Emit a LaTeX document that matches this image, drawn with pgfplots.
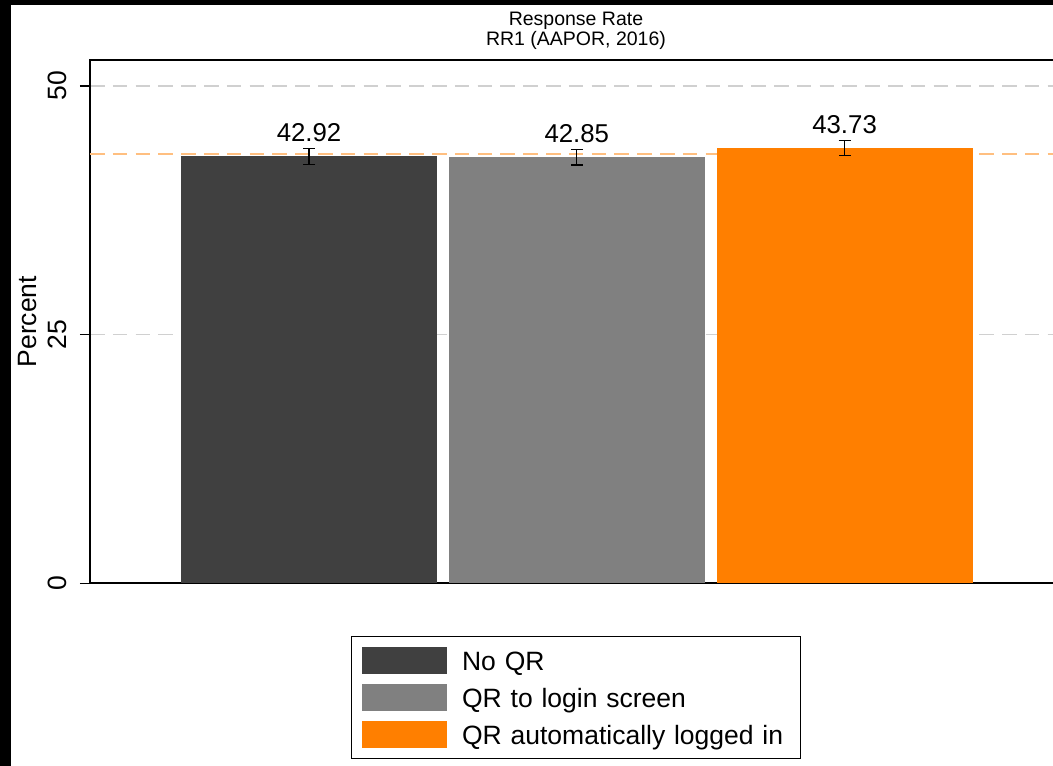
\documentclass[border=0pt]{standalone}
\usepackage{fontspec}
\setmainfont{Liberation Sans}
\usepackage{pgfplots}
\pgfplotsset{compat=1.18}

\definecolor{barA}{RGB}{64,64,64}
\definecolor{barB}{RGB}{128,128,128}
\definecolor{barC}{RGB}{255,127,0}
\definecolor{meanline}{RGB}{255,191,128}
\definecolor{gridgray}{RGB}{208,208,208}

\begin{document}
\begin{tikzpicture}
% page frame
\path[use as bounding box] (0pt,0pt) rectangle (1053pt,766pt);
\fill[black] (0pt,0pt) rectangle (1053pt,766pt);
\fill[white] (11pt,0pt) rectangle (1053pt,761.3pt);

\begin{axis}[
  at={(90pt,182.7pt)}, anchor=south west,
  scale only axis,
  width=972pt, height=523.3pt,
  xmin=0.182, xmax=3.812,
  ymin=0, ymax=52.61,
  xtick=\empty,
  ytick={0,25,50},
  ytick pos=left,
  tick align=outside,
  major tick length=10pt,
  every tick/.style={black, line width=1.4pt},
  axis line style={black, line width=1.6pt},
  ymajorgrids,
  grid style={gridgray, line width=1.6pt, dash pattern=on 14.5pt off 8.3pt},
  /pgf/number format/assume math mode=true,
  yticklabel style={font=\fontsize{26.5}{26.5}\selectfont, rotate=90, anchor=base, yshift=13pt, inner sep=0pt},
  ylabel={Percent},
  ylabel style={font=\fontsize{26.5}{26.5}\selectfont, at={(axis description cs:-0.0548,0.5)}, anchor=base, inner sep=0pt},
  bar width=0.956,
  legend cell align=left,
  legend image code/.code={\fill[#1,draw=none] (0pt,-13.5pt) rectangle (85pt,13.5pt);},
  legend style={
    at={(axis description cs:0.2685,-0.1007)}, anchor=north west,
    draw=black, line width=1.2pt,
    inner xsep=10.5pt, inner ysep=10.5pt,
    row sep=10pt, column sep=15pt,
    font=\fontsize{26.5}{26.5}\selectfont,
    nodes={inner sep=0pt, text height=19pt, text depth=0pt, text width=328pt},
  },
  every node near coord/.append style={font=\fontsize{25.8}{25.8}\selectfont, anchor=base, yshift=14.5pt, inner sep=0pt, black},
  nodes near coords={\pgfmathprintnumber[fixed,precision=2,fixed zerofill]{\pgfplotspointmeta}},
]
% overall mean as reference
\addplot[meanline, line width=2pt, dash pattern=on 14.5pt off 8.3pt, nodes near coords={}, forget plot]
  coordinates {(0.182,43.17) (3.812,43.17)};

\addplot[ybar, bar shift=0pt, fill=barA, draw=none,
  error bars/.cd, y dir=both, y explicit,
  error bar style={black, line width=1.2pt},
  error mark options={rotate=90, mark size=6pt, line width=1.2pt, black}]
  coordinates {(1,42.92) +- (0,0.80)};
\addlegendentry{No QR}

\addplot[ybar, bar shift=0pt, fill=barB, draw=none,
  error bars/.cd, y dir=both, y explicit,
  error bar style={black, line width=1.2pt},
  error mark options={rotate=90, mark size=6pt, line width=1.2pt, black}]
  coordinates {(2,42.85) +- (0,0.79)};
\addlegendentry{QR to login screen}

\addplot[ybar, bar shift=0pt, fill=barC, draw=none,
  error bars/.cd, y dir=both, y explicit,
  error bar style={black, line width=1.2pt},
  error mark options={rotate=90, mark size=6pt, line width=1.2pt, black}]
  coordinates {(3,43.73) +- (0,0.75)};
\addlegendentry{QR automatically logged in}
\end{axis}

\node[anchor=base, inner sep=0pt, font=\fontsize{19.5}{19.5}\selectfont] at (576pt,740pt) {Response Rate};
\node[anchor=base, inner sep=0pt, font=\fontsize{19.5}{19.5}\selectfont] at (576pt,720.3pt) {RR1 (AAPOR, 2016)};
\end{tikzpicture}
\end{document}
